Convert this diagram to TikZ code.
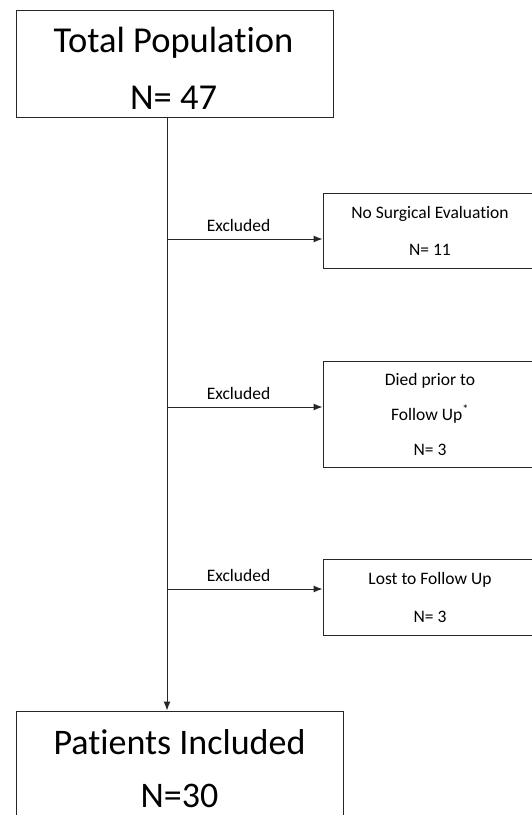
\documentclass[tikz,border=0pt]{standalone}
\usepackage{fontspec}
\setmainfont[Ligatures={NoCommon}]{Carlito}
\usetikzlibrary{arrows.meta}
\begin{document}
\begin{tikzpicture}[x=1pt,y=-1pt,
  boxshape/.style={draw=black!85,line width=1pt,inner sep=0pt},
  bigtext/.style={align=center,inner sep=0pt},
  sidebox/.style={boxshape,align=center},
  conn/.style={draw=black!85,line width=1pt},
  arr/.style={conn,-{Latex[length=9pt,width=7pt]}},
  lbl/.style={font=\fontsize{17.5}{20}\selectfont,inner sep=0pt}]
\useasboundingbox (0,0) rectangle (532,815);
\clip (0,0) rectangle (532,815);
\fill[white] (0,0) rectangle (532,815);
% boxes
\node[boxshape,minimum width=317pt,minimum height=107pt] (top) at (174.5,63.5) {};
\node[bigtext,font=\fontsize{36.5}{57}\selectfont] (toptext) at (173.5,68.5)
  {Total Population\\N= 47};
\node[boxshape,minimum width=327pt,minimum height=119pt] (bot) at (179.5,770.5) {};
\node[bigtext,font=\fontsize{36}{53}\selectfont] (bottext) at (179.5,768.5)
  {Patients Included\\N=30};
\node[sidebox,minimum width=214pt,minimum height=75pt,
  font=\fontsize{17.5}{37}\selectfont] (b1) at (430,230.5)
  {No Surgical Evaluation\\N= 11};
\node[sidebox,minimum width=214pt,minimum height=106pt,
  font=\fontsize{17.5}{35}\selectfont] (b2) at (430,414)
  {Died prior to\\Follow Up\textsuperscript{*}\\N= 3};
\node[sidebox,minimum width=214pt,minimum height=76pt,
  font=\fontsize{17.5}{38}\selectfont] (b3) at (430,597)
  {Lost to Follow Up\\N= 3};
% trunk
\coordinate (tx) at (167,0);
\coordinate (j1) at (167,239);
\coordinate (j2) at (167,407);
\coordinate (j3) at (167,589);
\draw[arr] (tx |- top.south) -- (tx |- bot.north);
\draw[arr] (j1) -- node[lbl,pos=0.46,above=7pt] {Excluded} (j1 -| b1.west);
\draw[arr] (j2) -- node[lbl,pos=0.46,above=7pt] {Excluded} (j2 -| b2.west);
\draw[arr] (j3) -- node[lbl,pos=0.46,above=7pt] {Excluded} (j3 -| b3.west);
\end{tikzpicture}
\end{document}
